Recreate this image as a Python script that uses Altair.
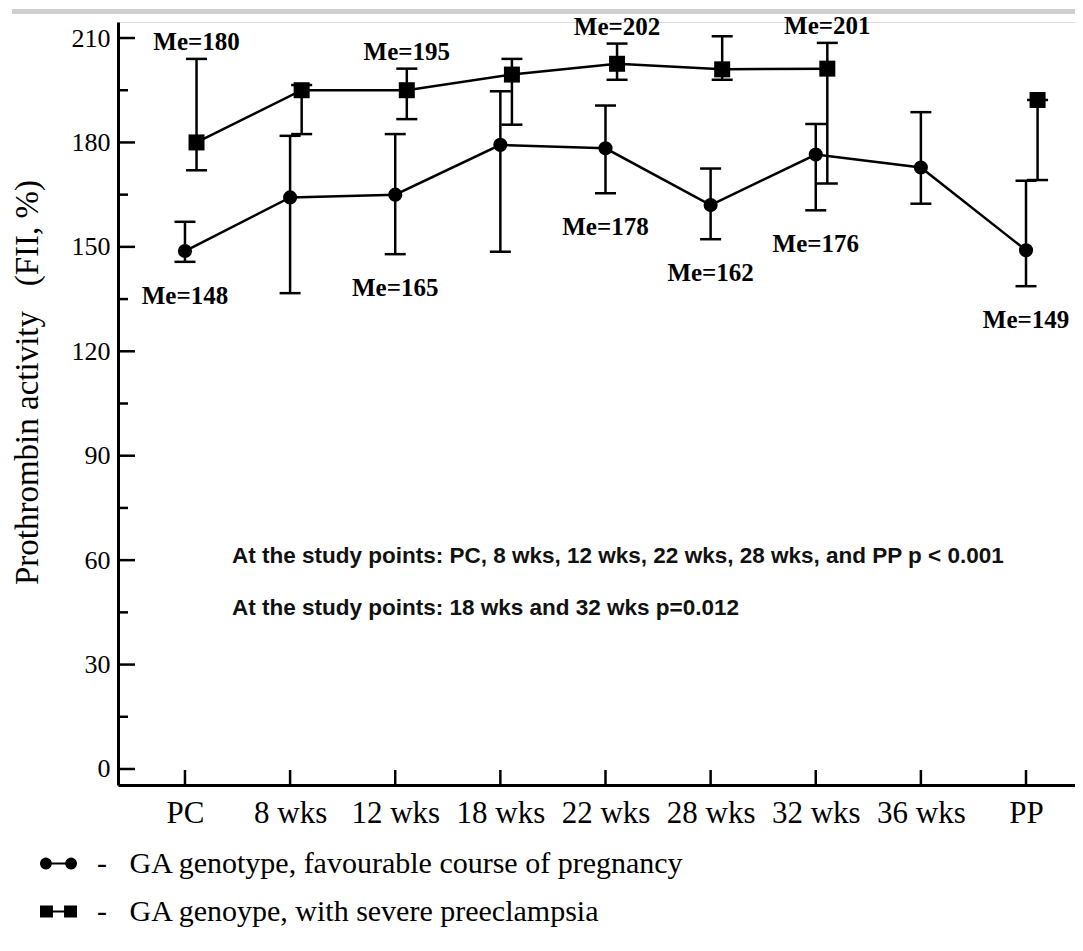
import math
import altair as alt
import pandas as pd

# ---------------- data ----------------
cats = ["PC", "8 wks", "12 wks", "18 wks", "22 wks", "28 wks", "32 wks", "36 wks", "PP"]
fav_name = "GA genotype, favourable course of pregnancy"
pre_name = "GA genoype, with severe preeclampsia"

fav_med = [148.8, 164.2, 165.0, 179.3, 178.3, 162.0, 176.5, 172.8, 149.0]
fav_low = [145.7, 136.7, 147.9, 148.6, 165.4, 152.2, 160.5, 162.4, 138.7]
fav_high = [157.2, 181.9, 182.4, 194.7, 190.6, 172.5, 185.3, 188.7, 169.0]
fav_lab = ["Me=148", "", "Me=165", "", "Me=178", "Me=162", "Me=176", "", "Me=149"]

pre_med = [180.0, 195.0, 195.0, 199.5, 202.6, 201.0, 201.2, None, 192.2]
pre_low = [172.0, 182.4, 186.7, 185.1, 198.0, 198.0, 168.2, None, 169.2]
pre_high = [204.0, 196.5, 201.2, 204.0, 208.4, 210.5, 208.6, None, 192.2]
pre_lab = ["Me=180", "", "Me=195", "", "Me=202", "", "Me=201", "", ""]

y_major = [0, 30, 60, 90, 120, 150, 180, 210]
y_minor = [15, 45, 75, 105, 135, 165, 195]

note1 = "At the study points: PC, 8 wks, 12 wks, 22 wks, 28 wks, and PP p < 0.001"
note2 = "At the study points: 18 wks and 32 wks p=0.012"
y_title = "Prothrombin activity\u00a0\u00a0\u00a0(FII, %)"

# ---------------- layout / style ----------------
W, H = 957, 763
DODGE = 0.11
SERIF = "Liberation Serif"
SANS = "Liberation Sans"

rows = []
for series, med, low, high, lab, off in [
    (fav_name, fav_med, fav_low, fav_high, fav_lab, 0.0),
    (pre_name, pre_med, pre_low, pre_high, pre_lab, DODGE),
]:
    seg = 0
    for i, c in enumerate(cats):
        if med[i] is None:
            seg += 1
            continue
        rows.append(dict(series=series, cat=c, x=i + off, med=med[i], low=low[i],
                         high=high[i], label=lab[i], seg=f"{series}-{seg}"))
df = pd.DataFrame(rows)
fav_df = df[df.series == fav_name]
pre_df = df[df.series == pre_name]

xs = alt.Scale(domain=[-0.637, 8.466], nice=False, zero=False)
ys = alt.Scale(domain=[-4.6, 214.6], nice=False, zero=False)

label_expr = "[" + ",".join("'" + c + "'" for c in cats) + "][datum.value]"
x_axis = alt.Axis(values=list(range(len(cats))), labelExpr=label_expr, ticks=False, tickSize=0,
                  labelPadding=13, labelFontSize=31, labelFont=SERIF, labelColor="black",
                  grid=False, domainColor="black", domainWidth=3, labelOverlap=False,
                  labelFlush=False, title=None)
y_axis = alt.Axis(values=y_major, format="d", ticks=False, tickSize=0, labelPadding=8,
                  labelFontSize=26, labelFont=SERIF, labelColor="black", grid=False,
                  domainColor="black", domainWidth=3, title=y_title, titleFont=SERIF,
                  titleFontSize=33, titleFontWeight="normal", titleColor="black",
                  titleAngle=270, titleX=-91, titleY=360, titleBaseline="middle",
                  titleAlign="center")


def X(f):
    return alt.X(f, type="quantitative", scale=xs, axis=x_axis)


def Y(f):
    return alt.Y(f, type="quantitative", scale=ys, axis=y_axis)


base = alt.Chart(df)

lines = base.mark_line(color="black", strokeWidth=2.5).encode(
    x=X("x"), y=Y("med"), detail="seg:N")

bars = base.mark_rule(color="black", strokeWidth=2.5).encode(
    x=X("x"), y=Y("low"), y2="high")

caps = base.transform_fold(["low", "high"], as_=["k", "v"]).mark_tick(
    orient="horizontal", size=21, thickness=2.5, color="black", opacity=1).encode(
    x=X("x"), y=Y("v"))

circles = alt.Chart(fav_df).mark_point(shape="circle", filled=True, size=200,
                                        color="black", opacity=1).encode(x=X("x"), y=Y("med"))
squares = alt.Chart(pre_df).mark_point(shape="square", filled=True, size=256,
                                        color="black", opacity=1).encode(x=X("x"), y=Y("med"))

fav_text = alt.Chart(fav_df).transform_filter("datum.label != ''").mark_text(
    baseline="top", dy=22, font=SERIF, fontSize=25, fontWeight="bold", color="black").encode(
    x=X("x"), y=Y("low"), text="label:N")
pre_text = alt.Chart(pre_df).transform_filter("datum.label != ''").mark_text(
    baseline="alphabetic", dy=-9, font=SERIF, fontSize=25, fontWeight="bold", color="black").encode(
    x=X("x"), y=Y("high"), text="label:N")


# legend glyphs: marker - line - marker
def _poly(cx, r, n=24):
    pts = [(cx + r * math.cos(2 * math.pi * k / n), r * math.sin(2 * math.pi * k / n)) for k in range(n)]
    return "M" + "L".join(f"{a:.3f},{b:.3f}" for a, b in pts) + "Z"


BAR = "M-0.68,-0.055L0.68,-0.055L0.68,0.055L-0.68,0.055Z"
CIRC = _poly(-0.68, 0.32) + " " + _poly(0.68, 0.32) + " " + BAR
SQ = ("M-1,-0.32L-0.3,-0.32L-0.3,0.32L-1,0.32Z "
      "M0.3,-0.32L1,-0.32L1,0.32L0.3,0.32Z " + BAR)

legend_layer = base.mark_point(filled=True, color="black", opacity=0).encode(
    x=X("x"), y=Y("med"),
    shape=alt.Shape("series:N",
                    scale=alt.Scale(domain=[fav_name, pre_name], range=[CIRC, SQ]),
                    legend=alt.Legend(orient="none", legendX=-78, legendY=823, title=None,
                                      labelFont=SERIF, labelFontSize=30, labelColor="black",
                                      labelExpr="'-\u00a0\u00a0 ' + datum.label",
                                      symbolSize=1369, symbolOpacity=1,
                                      symbolFillColor="black", symbolStrokeWidth=0,
                                      rowPadding=14, labelOffset=20, padding=0,
                                      labelLimit=1000)))

ymaj = alt.Chart(pd.DataFrame({"v": y_major})).mark_rule(color="black", strokeWidth=2.5).encode(
    y=Y("v"), x=alt.value(0), x2=alt.value(17))
ymin = alt.Chart(pd.DataFrame({"v": y_minor})).mark_rule(color="black", strokeWidth=2.5).encode(
    y=Y("v"), x=alt.value(0), x2=alt.value(10))
xt = alt.Chart(pd.DataFrame({"i": list(range(len(cats)))})).mark_rule(
    color="black", strokeWidth=2.5).encode(x=X("i"), y=alt.value(H), y2=alt.value(H - 15))

n1 = alt.Chart(pd.DataFrame({"t": [note1]})).mark_text(
    align="left", baseline="alphabetic", font=SANS, fontSize=22.5, fontWeight="bold",
    color="#111111").encode(x=alt.value(114), y=alt.value(541), text="t:N")
n2 = alt.Chart(pd.DataFrame({"t": [note2]})).mark_text(
    align="left", baseline="alphabetic", font=SANS, fontSize=22.5, fontWeight="bold",
    color="#111111").encode(x=alt.value(114), y=alt.value(593), text="t:N")

topline = alt.Chart(pd.DataFrame({"a": [0]})).mark_rule(color="#cfcfcf", strokeWidth=5).encode(
    x=alt.value(-106), x2=alt.value(W), y=alt.value(-10.5))

chart = alt.layer(
    topline, ymaj, ymin, xt, lines, bars, caps, circles, squares, fav_text, pre_text,
    n1, n2, legend_layer
).properties(
    width=W, height=H,
    padding={"left": 110, "top": 14, "right": 0, "bottom": 150},
    autosize=alt.AutoSizeParams(type="none"),
).configure_view(stroke=None).configure(background="white")

chart.save("out.html", embed_options={"renderer": "svg", "actions": False})
